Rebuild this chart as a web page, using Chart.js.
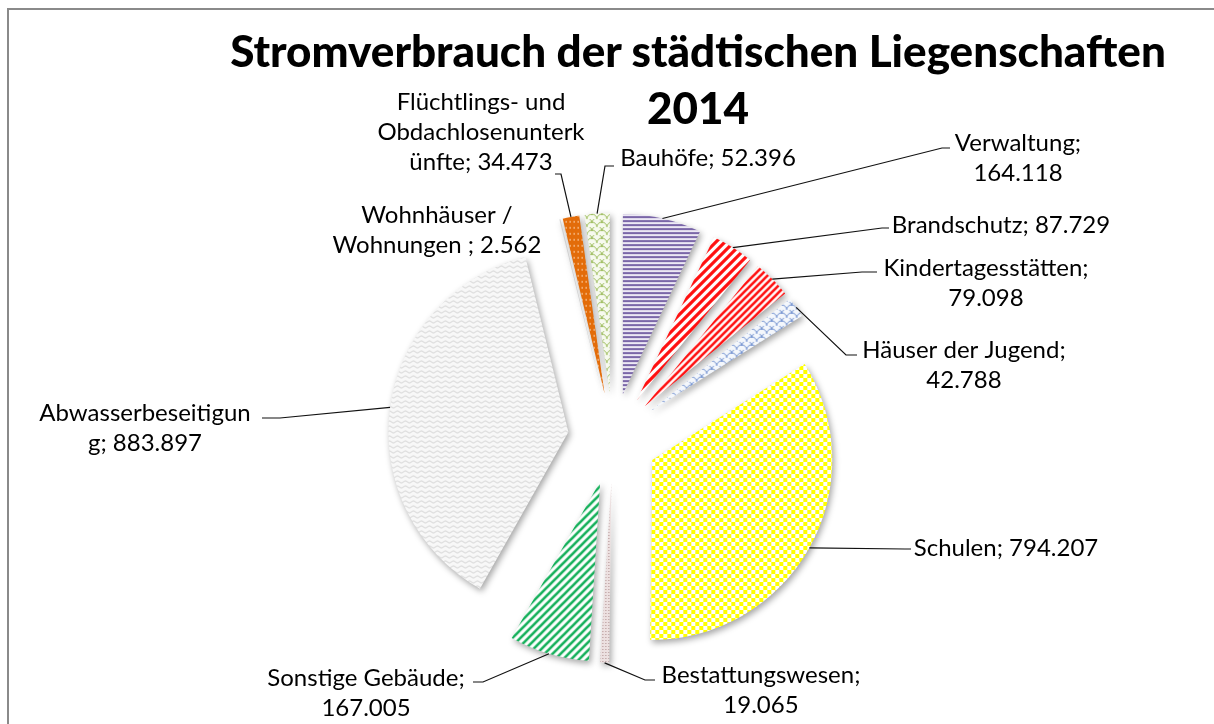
<!DOCTYPE html>
<html>
<head>
<meta charset="utf-8">
<script src="https://cdn.jsdelivr.net/npm/chart.js@4.4.1/dist/chart.umd.min.js"></script>
<style>
  html, body { margin: 0; padding: 0; background: #fff; }
  #wrap { position: relative; width: 1214px; height: 724px; overflow: hidden; }
  #frame { position: absolute; left: 7px; top: 8px; width: 1300px; height: 800px;
           border-left: 2px solid #8a8a8a; border-top: 2px solid #8a8a8a; }
  #title { position: absolute; left: 98px; top: 22px; width: 1200px; text-align: center;
           font-family: Lato, sans-serif; font-weight: 900; font-size: 44px; line-height: 57px; color: #000; }
  #box { position: absolute; left: 0; top: 0; width: 1214px; height: 724px; }
</style>
</head>
<body>
<div id="wrap">
  <div id="frame"></div>
  <div id="box"><canvas id="Strom"></canvas></div>
  <div id="title">Stromverbrauch der städtischen Liegenschaften<br>2014</div>
</div>
<script>
const categories = ['Verwaltung', 'Brandschutz', 'Kindertagesstätten', 'Häuser der Jugend', 'Schulen',
    'Bestattungswesen', 'Sonstige Gebäude', 'Abwasserbeseitigung', 'Wohnhäuser / Wohnungen ',
    'Flüchtlings- und Obdachlosenunterkünfte', 'Bauhöfe'];
const verbrauch = [164118, 87729, 79098, 42788, 794207, 19065, 167005, 883897, 2562, 34473, 52396];

// label placement (Excel wrapped the text by hand-ish, so the line lengths are listed)
const labelLayout = [
    {wrap: [11], cx: 1018, y: 143, path: [[942, 148], [950, 148]]},
    {wrap: [], cx: 1001, y: 225, path: [[882, 228], [889, 228]]},
    {wrap: [19], cx: 986, y: 268, path: [[862, 272], [877, 272]]},
    {wrap: [18], cx: 964, y: 350, path: [[846, 355], [857, 355]]},
    {wrap: [], cx: 1006, y: 548, path: [[905, 549], [911, 549]]},
    {wrap: [17], cx: 761, y: 675, path: [[645, 680], [655, 680]]},
    {wrap: [17], cx: 366, y: 678, path: [[483, 682], [473, 682]]},
    {wrap: [18], cx: 145, y: 413, path: [[280, 418], [262, 418]]},
    {wrap: [12], cx: 437, y: 215, path: null},
    {wrap: [16, 17], cx: 481, y: 102, path: [[561, 174], [555, 174]]},
    {wrap: [], cx: 708, y: 158, path: [[605, 166], [614, 166]]}
];
const explode = 45;

function tile(w, h, draw) {
    const c = document.createElement('canvas');
    c.width = w; c.height = h;
    const g = c.getContext('2d');
    draw(g, w, h);
    return g.createPattern(c, 'repeat');
}
function diag(color, bg, size, lw) {
    return tile(size, size, function (g, s) {
        g.fillStyle = bg; g.fillRect(0, 0, s, s);
        g.strokeStyle = color; g.lineWidth = lw;
        g.beginPath();
        g.moveTo(0, s); g.lineTo(s, 0);
        g.moveTo(-2, 2); g.lineTo(2, -2);
        g.moveTo(s - 2, s + 2); g.lineTo(s + 2, s - 2);
        g.stroke();
    });
}
function scales(color, bg) {
    return tile(10, 8, function (g) {
        g.fillStyle = bg; g.fillRect(0, 0, 10, 8);
        g.strokeStyle = color; g.lineWidth = 1;
        g.beginPath(); g.arc(5, 8, 5, Math.PI, 2 * Math.PI); g.stroke();
        g.beginPath(); g.arc(0, 4, 5, Math.PI, 2 * Math.PI); g.stroke();
        g.beginPath(); g.arc(10, 4, 5, Math.PI, 2 * Math.PI); g.stroke();
    });
}

const fills = [
    tile(4, 4, function (g) { g.fillStyle = '#ece8f4'; g.fillRect(0, 0, 4, 4); g.fillStyle = '#7a66a8'; g.fillRect(0, 0, 4, 2); }),
    diag('#ff1010', '#ffffff', 9, 3.2),
    diag('#ff1010', '#ffffff', 7, 2.6),
    scales('#6f8fcf', '#f4f7fc'),
    tile(8, 8, function (g) { g.fillStyle = '#ffffff'; g.fillRect(0, 0, 8, 8); g.fillStyle = '#ffff00'; g.fillRect(0, 0, 4, 4); g.fillRect(4, 4, 4, 4); }),
    tile(3, 3, function (g) { g.fillStyle = '#ece0e0'; g.fillRect(0, 0, 3, 3); g.fillStyle = '#b09090'; g.fillRect(1, 1, 1, 1); }),
    diag('#14b05a', '#ffffff', 8, 2.6),
    tile(8, 5, function (g) {
        g.fillStyle = '#f8f8f8'; g.fillRect(0, 0, 8, 5);
        g.strokeStyle = '#d4d4d4'; g.lineWidth = 1;
        g.beginPath(); g.moveTo(0, 3); g.quadraticCurveTo(2, 0.5, 4, 3); g.quadraticCurveTo(6, 5.5, 8, 3); g.stroke();
    }),
    '#d9d9d9',
    tile(4, 6, function (g) { g.fillStyle = '#e36c09'; g.fillRect(0, 0, 4, 6); g.fillStyle = '#fbd0a8'; g.fillRect(2, 1, 1, 2); }),
    scales('#9bbb59', '#f7faef')
];

function splitLines(s, lens) {
    const out = [];
    let rest = s;
    lens.forEach(function (n) {
        rest = rest.replace(/^\s+/, '');
        out.push(rest.slice(0, n).trim());
        rest = rest.slice(n);
    });
    rest = rest.trim();
    if (rest) out.push(rest);
    return out;
}

const explodePlugin = {
    id: 'explode',
    beforeDatasetDraw(chart, args) {
        const ctx = chart.ctx;
        args.meta.data.forEach(function (arc) {
            const half = (arc.startAngle + arc.endAngle) / 2;
            ctx.save();
            ctx.shadowColor = 'rgba(0,0,0,0.35)';
            ctx.shadowBlur = 6;
            ctx.shadowOffsetX = 2;
            ctx.shadowOffsetY = 3;
            ctx.translate(Math.cos(half) * explode, Math.sin(half) * explode);
            arc.draw(ctx);
            ctx.restore();
        });
        return false;
    }
};

const labelPlugin = {
    id: 'pieLabels',
    afterDatasetsDraw(chart) {
        const ctx = chart.ctx;
        const meta = chart.getDatasetMeta(0);
        const values = chart.data.datasets[0].data;
        ctx.save();
        ctx.font = '24px Lato, sans-serif';
        ctx.fillStyle = '#000';
        ctx.textAlign = 'center';
        ctx.textBaseline = 'middle';
        ctx.strokeStyle = '#111';
        ctx.lineWidth = 1.2;
        meta.data.forEach(function (arc, i) {
            const lay = labelLayout[i];
            const half = (arc.startAngle + arc.endAngle) / 2;
            const r = arc.outerRadius + explode;
            if (lay.path) {
                ctx.beginPath();
                ctx.moveTo(arc.x + Math.cos(half) * r, arc.y + Math.sin(half) * r);
                lay.path.forEach(function (p) { ctx.lineTo(p[0], p[1]); });
                ctx.stroke();
            }
            const text = chart.data.labels[i] + '; ' + values[i].toLocaleString('de-DE');
            splitLines(text, lay.wrap).forEach(function (line, k) {
                ctx.fillText(line, lay.cx, lay.y + k * 30);
            });
        });
        ctx.restore();
    }
};

new Chart(document.getElementById('Strom').getContext('2d'), {
    type: 'pie',
    data: {
        labels: categories,
        datasets: [{
            data: verbrauch,
            backgroundColor: fills,
            borderWidth: 0,
            radius: 180
        }]
    },
    options: {
        responsive: true,
        maintainAspectRatio: false,
        animation: false,
        layout: { padding: { left: 12, right: 0, top: 152, bottom: 0 } },
        plugins: {
            legend: { display: false },
            title: { display: false },
            tooltip: { enabled: false }
        }
    },
    plugins: [explodePlugin, labelPlugin]
});
</script>
</body>
</html>
